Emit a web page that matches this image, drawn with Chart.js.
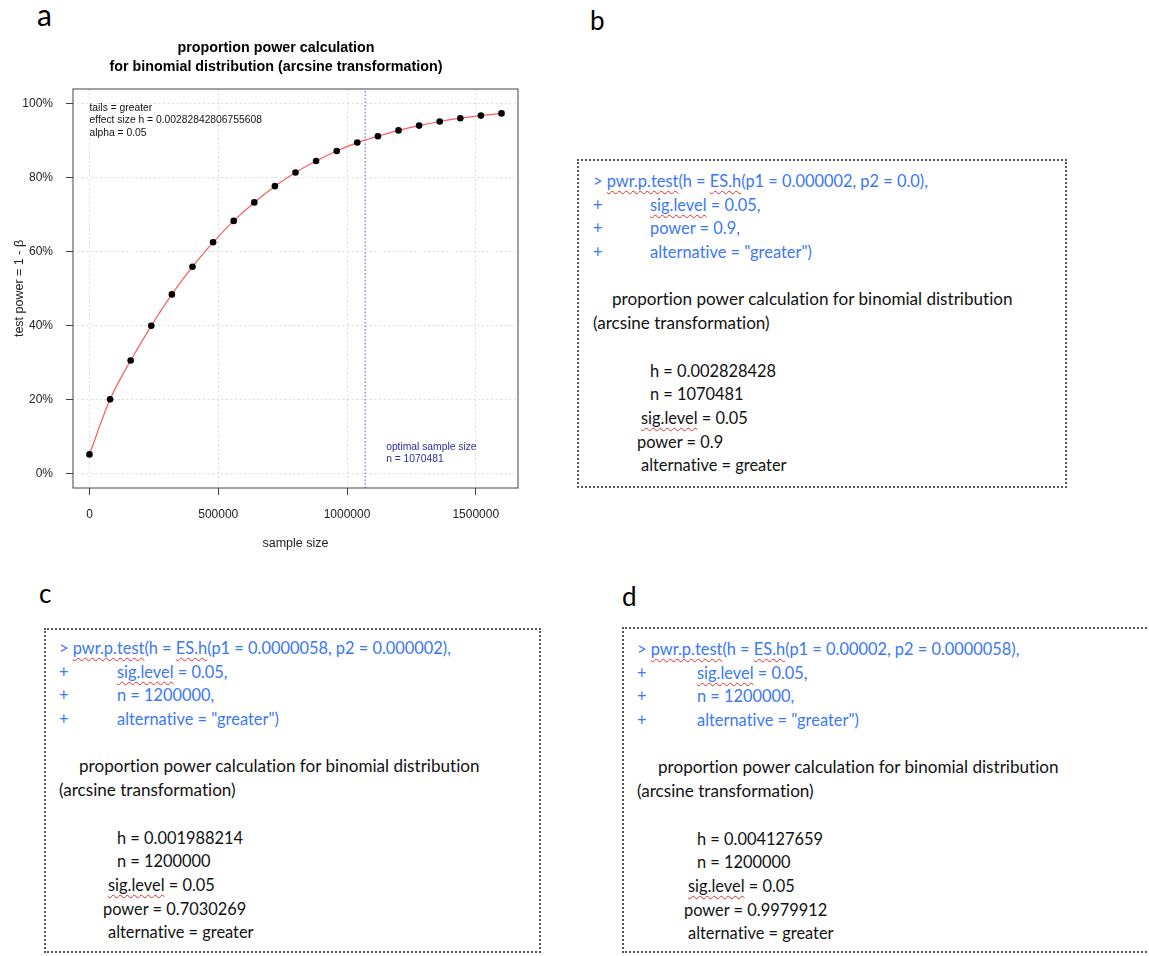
<!DOCTYPE html>
<html>
<head>
<meta charset="utf-8">
<script src="https://cdn.jsdelivr.net/npm/chart.js@4.4.1/dist/chart.umd.min.js"></script>
<style>
  body { margin: 0; width: 1149px; height: 956px; overflow: hidden; background: #fff; position: relative; }
  .lab { position: absolute; font-family: Lato, sans-serif; font-size: 26px; line-height: 1; color: #000; }
  #chartBox { position: absolute; left: 0; top: 0; width: 540px; height: 570px; }
  .frame { position: absolute; border: 2px dotted #555; box-sizing: border-box; }
  .txt { position: absolute; font-family: Lato, sans-serif; font-size: 16.4px; color: #111; white-space: pre;
         font-variant-ligatures: none; }
  .txt div { height: 23.7px; line-height: 23.7px; }
  .txt .prose { font-size: 17.1px; }
  .blue { color: #3a78f4; }
  .sq { text-decoration: underline wavy #e0302a; text-decoration-thickness: 1px; text-underline-offset: 3px; }
  .plus { display: inline-block; }
</style>
</head>
<body>
<div class="lab" style="left:37px;top:-1px;font-size:30px">a</div>
<div class="lab" style="left:590px;top:7px">b</div>
<div class="lab" style="left:39px;top:580px">c</div>
<div class="lab" style="left:622px;top:583px">d</div>

<div id="chartBox"><canvas id="powerChart"></canvas></div>

<div class="frame" style="left:577px;top:159px;width:490px;height:329px"></div>
<div class="frame" style="left:44px;top:628px;width:497px;height:325px"></div>
<div class="frame" style="left:622px;top:627px;width:600px;height:326px"></div>

<div id="panels"></div>

<script>
// power curve
const sampleSize = [0, 80000, 160000, 240000, 320000, 400000, 480000, 560000, 640000, 720000,
                    800000, 880000, 960000, 1040000, 1120000, 1200000, 1280000, 1360000, 1440000, 1520000, 1600000];
const testPower = [0.051, 0.200, 0.305, 0.399, 0.484, 0.559, 0.625, 0.683, 0.733, 0.777,
                   0.814, 0.845, 0.872, 0.895, 0.912, 0.928, 0.941, 0.952, 0.961, 0.968, 0.974];
const optimalN = 1070481;
const xTicks = [0, 500000, 1000000, 1500000];
const yTicks = [0, 0.2, 0.4, 0.6, 0.8, 1.0];
const titleLines = ['proportion power calculation', 'for binomial distribution (arcsine transformation)'];
const infoLines = ['tails = greater', 'effect size h = 0.00282842806755608', 'alpha = 0.05'];
const optimalLines = ['optimal sample size', 'n = 1070481'];

// R console output panels
const panels = [
  { left: 593, top: 169, p1: '0.000002', p2: '0.0', arg: 'power = 0.9,',
    h: '0.002828428', n: '1070481', pw: '0.9', ind: [57, 19, 57, 48, 44, 48] },
  { left: 59, top: 636, p1: '0.0000058', p2: '0.000002', arg: 'n = 1200000,',
    h: '0.001988214', n: '1200000', pw: '0.7030269', ind: [58, 20, 58, 49, 44, 49] },
  { left: 637, top: 637, p1: '0.00002', p2: '0.0000058', arg: 'n = 1200000,',
    h: '0.004127659', n: '1200000', pw: '0.9979912', ind: [60, 21, 60, 51, 47, 51] }
];

let html = '';
panels.forEach(p => {
  const [ip, ipr, ih, isg, ipw, ial] = p.ind;
  const plus = s => '<div class="blue"><span class="plus" style="width:' + ip + 'px">+</span>' + s + '</div>';
  const ind = (w, s) => '<div style="padding-left:' + w + 'px">' + s + '</div>';
  html += '<div class="txt" style="left:' + p.left + 'px;top:' + p.top + 'px">' +
    '<div class="blue">&gt; <span class="sq">pwr.p.test</span>(h = <span class="sq">ES.h</span>(p1 = ' + p.p1 + ', p2 = ' + p.p2 + '),</div>' +
    plus('<span class="sq">sig.level</span> = 0.05,') +
    plus(p.arg) +
    plus('alternative = "greater")') +
    '<div></div>' +
    '<div class="prose" style="padding-left:' + ipr + 'px">proportion power calculation for binomial distribution</div>' +
    '<div class="prose">(arcsine transformation)</div>' +
    '<div></div>' +
    ind(ih, 'h = ' + p.h) +
    ind(ih, 'n = ' + p.n) +
    ind(isg, '<span class="sq">sig.level</span> = 0.05') +
    ind(ipw, 'power = ' + p.pw) +
    ind(ial, 'alternative = greater') +
    '</div>';
});
document.getElementById('panels').innerHTML = html;

Chart.defaults.font.family = '"Liberation Sans", Arial, Helvetica, sans-serif';
Chart.defaults.color = '#222';

const rPlotExtras = {
  id: 'rPlotExtras',
  afterDraw(chart) {
    const { ctx, chartArea: a, scales } = chart;
    ctx.save();
    // plot frame
    ctx.strokeStyle = '#444';
    ctx.lineWidth = 1;
    ctx.strokeRect(a.left, a.top, a.right - a.left, a.bottom - a.top);
    // title, centred over the whole figure region like base R
    ctx.fillStyle = '#000';
    ctx.textAlign = 'center';
    ctx.textBaseline = 'middle';
    ctx.font = 'bold 14.3px "Liberation Sans", Arial, sans-serif';
    titleLines.forEach((t, i) => ctx.fillText(t, 276, 48 + i * 19));
    // parameter legend, top left
    ctx.textAlign = 'left';
    ctx.font = '10.3px "Liberation Sans", Arial, sans-serif';
    ctx.fillStyle = '#111';
    const x0 = scales.x.getPixelForValue(0);
    infoLines.forEach((t, i) => ctx.fillText(t, x0, a.top + 19 + i * 12.5));
    // optimal sample size note
    ctx.fillStyle = '#2b2ba6';
    const xo = scales.x.getPixelForValue(optimalN) + 21;
    optimalLines.forEach((t, i) => ctx.fillText(t, xo, a.bottom - 41 + i * 12.5));
    ctx.restore();
  }
};

const gridBase = {
  color: '#d4d4d4',
  lineWidth: 1,
  tickLength: 7,
  tickColor: '#444',
  tickWidth: 1,
  tickBorderDash: []
};

new Chart(document.getElementById('powerChart'), {
  type: 'line',
  data: {
    datasets: [
      {
        label: 'power',
        data: sampleSize.map((x, i) => ({ x: x, y: testPower[i] })),
        borderColor: '#ff5c5c',
        borderWidth: 1.2,
        pointRadius: 3.3,
        pointBackgroundColor: '#000',
        pointBorderColor: '#000',
        pointBorderWidth: 0,
        cubicInterpolationMode: 'monotone',
        order: 1
      },
      {
        label: 'optimal n',
        data: [{ x: optimalN, y: -0.04 }, { x: optimalN, y: 1.04 }],
        borderColor: '#5a5ad0',
        borderWidth: 1,
        borderDash: [1.5, 2],
        pointRadius: 0,
        order: 2
      }
    ]
  },
  options: {
    responsive: true,
    maintainAspectRatio: false,
    animation: false,
    layout: { padding: { top: 89, right: 22, left: 0, bottom: 0 } },
    plugins: {
      legend: { display: false },
      tooltip: { enabled: false },
      title: { display: false }
    },
    scales: {
      x: {
        type: 'linear',
        min: -64000,
        max: 1664000,
        afterBuildTicks: s => { s.ticks = xTicks.map(v => ({ value: v })); },
        afterFit: s => { s.height = 82; },
        grid: gridBase,
        border: { display: false, dash: [1.5, 3] },
        ticks: {
          font: { size: 12 },
          color: '#222',
          padding: 12,
          maxRotation: 0,
          callback: v => String(v)
        },
        title: {
          display: true,
          text: 'sample size',
          font: { size: 12.5 },
          color: '#222',
          padding: { top: 0, bottom: 19 }
        }
      },
      y: {
        type: 'linear',
        min: -0.04,
        max: 1.04,
        afterBuildTicks: s => { s.ticks = yTicks.map(v => ({ value: v })); },
        afterFit: s => { s.width = 73; },
        grid: gridBase,
        border: { display: false, dash: [1.5, 3] },
        ticks: {
          font: { size: 12 },
          color: '#222',
          padding: 13,
          callback: v => Math.round(v * 100) + '%'
        },
        title: {
          display: true,
          text: 'test power = 1 - β',
          font: { size: 12.5 },
          color: '#222',
          padding: { top: 12.5, bottom: 0 }
        }
      }
    }
  },
  plugins: [rPlotExtras]
});
</script>
</body>
</html>
